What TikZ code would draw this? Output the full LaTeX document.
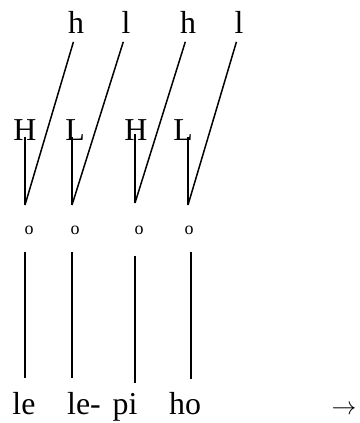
\documentclass[tikz,border=0pt]{standalone}
\usepackage{fontspec}
\setmainfont{Liberation Serif}
\usetikzlibrary{positioning}

\begin{document}
\begin{tikzpicture}[x=1bp, y=-1bp,
    tone/.style={inner sep=0pt, anchor=base, font=\fontsize{32}{32}\selectfont},
    mora/.style={inner sep=0pt, font=\fontsize{18}{18}\selectfont},
    assoc/.style={line width=1.5bp}
]
    \useasboundingbox (0,0) rectangle (360,423);

    % floating tones
    \node[tone] (h1) at (76,33) {h};
    \node[tone] (l1) at (126,33) {l};
    \node[tone] (h2) at (188,33) {h};
    \node[tone] (l2) at (239,33) {l};

    % lexical tones
    \node[tone] (H1) at (25,140) {H};
    \node[tone] (L1) at (75,140) {L};
    \node[tone] (H2) at (136,140) {H};
    \node[tone] (L2) at (183,140) {L};

    \coordinate (j1) at (25,205);
    \coordinate (j2) at (72,205);
    \coordinate (j3) at (135,203);
    \coordinate (j4) at (188,205);
    \coordinate (k4) at (191,0);

    % moras
    \node[mora] (o1) at (29,230) {o};
    \node[mora] (o2) at (75,230) {o};
    \node[mora] (o3) at (139,230) {o};
    \node[mora] (o4) at (189,230) {o};

    % syllables
    \node[tone] (s1) at (24,414) {le};
    \node[tone] (s2) at (84,414) {le-};
    \node[tone] (s3) at (125,414) {pi};
    \node[tone] (s4) at (185,414) {ho};
    \node[tone] (arr) at (344,414) {$\rightarrow$};

    \draw[assoc, shorten >=9bp] (j1) -- (h1.south);
    \draw[assoc, shorten >=9bp] (j2) -- (l1.south);
    \draw[assoc, shorten >=9bp] (j3) -- (h2.south);
    \draw[assoc, shorten >=9bp] (j4) -- (l2.south);

    \draw[assoc, shorten >=7bp] (j1) -- (j1 |- H1.center);
    \draw[assoc, shorten >=7bp] (j2) -- (j2 |- L1.center);
    \draw[assoc, shorten >=4bp] (j3) -- (j3 |- H2.center);
    \draw[assoc, shorten >=7bp] (j4) -- (j4 |- L2.center);

    \draw[assoc, shorten <=17bp, shorten >=14bp] (j1 |- o1.south) -- (j1 |- s1.north);
    \draw[assoc, shorten <=17bp, shorten >=14bp] (j2 |- o2.south) -- (j2 |- s2.north);
    \draw[assoc, shorten <=21bp, shorten >=10bp] (j3 |- o3.south) -- (j3 |- s3.north);
    \draw[assoc, shorten <=17bp, shorten >=13bp] (k4 |- o4.south) -- (k4 |- s4.north);
\end{tikzpicture}
\end{document}
